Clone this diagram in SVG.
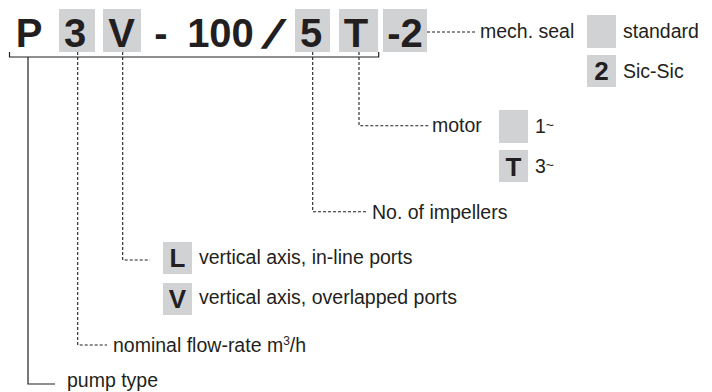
<svg xmlns="http://www.w3.org/2000/svg" width="712" height="392" viewBox="0 0 712 392">
<style>
.box{fill:#d1d2d4}
.big{font-family:"Liberation Sans",Arial,sans-serif;font-weight:bold;font-size:40px;fill:#231f20;text-anchor:middle}
.code{font-family:"Liberation Sans",Arial,sans-serif;font-weight:bold;font-size:26px;fill:#231f20;text-anchor:middle}
.lbl{font-family:"Liberation Sans",Arial,sans-serif;font-size:19.5px;fill:#231f20}
.dash{fill:none;stroke:#231f20;stroke-width:1.1;stroke-dasharray:3 2}
.solid{fill:none;stroke:#231f20;stroke-width:1.2}
</style>
<rect width="712" height="392" fill="#ffffff"/>
<g id="code">
<rect class="box" x="59" y="9" width="36" height="43"/>
<rect class="box" x="103" y="9" width="38" height="43"/>
<rect class="box" x="295" y="9" width="35" height="43"/>
<rect class="box" x="339" y="9" width="39" height="43"/>
<rect class="box" x="383" y="9" width="44" height="43"/>
<text class="big" x="29" y="47">P</text>
<text class="big" x="75" y="47">3</text>
<text class="big" x="121.5" y="47">V</text>
<text class="big" x="161" y="47">-</text>
<text class="big" x="220.5" y="47">100</text>
<text class="big" transform="translate(267.5 48) skewX(-24) scale(1.25 1)" x="0" y="0">/</text>
<text class="big" x="311" y="47">5</text>
<text class="big" x="356" y="47">T</text>
<text class="big" x="405" y="47">-2</text>
</g>
<g id="connectors">
<path class="solid" d="M9.5 52V57H378.7V52"/>
<path class="solid" d="M28 57V384H55"/>
<path class="dash" d="M77.7 52V345H107"/>
<path class="dash" d="M122.7 52V260H150"/>
<path class="dash" d="M312.7 52V211.7H368"/>
<path class="dash" d="M359 52V125.7H430"/>
<path class="dash" d="M427 32H477"/>
</g>
<g id="pump-type">
<text class="lbl" x="67" y="387">pump type</text>
</g>
<g id="flow-rate">
<text class="lbl" x="113" y="352">nominal flow-rate m<tspan font-size="12" dy="-7">3</tspan><tspan dy="7">/h</tspan></text>
</g>
<g id="axis-L">
<rect class="box" x="163" y="242" width="29" height="32"/>
<text class="code" x="177.5" y="267">L</text>
<text class="lbl" x="199" y="264">vertical axis, in-line ports</text>
</g>
<g id="axis-V">
<rect class="box" x="163" y="283" width="29" height="32"/>
<text class="code" x="177.5" y="308">V</text>
<text class="lbl" x="199" y="304">vertical axis, overlapped ports</text>
</g>
<g id="impellers">
<text class="lbl" x="372" y="219">No. of impellers</text>
</g>
<g id="motor">
<text class="lbl" x="432" y="132">motor</text>
</g>
<g id="motor-1">
<rect class="box" x="499" y="110" width="29" height="33"/>
<text class="lbl" x="535" y="133">1<tspan font-size="14" dy="-3">~</tspan></text>
</g>
<g id="motor-3">
<rect class="box" x="499" y="150" width="29" height="32"/>
<text class="code" x="513.5" y="176">T</text>
<text class="lbl" x="535" y="173">3<tspan font-size="14" dy="-3">~</tspan></text>
</g>
<g id="mech-seal">
<text class="lbl" x="480" y="38">mech. seal</text>
</g>
<g id="seal-standard">
<rect class="box" x="587" y="15" width="29" height="33"/>
<text class="lbl" x="623" y="38">standard</text>
</g>
<g id="seal-sic">
<rect class="box" x="587" y="55" width="29" height="32"/>
<text class="code" x="601.5" y="80">2</text>
<text class="lbl" x="623" y="78">Sic-Sic</text>
</g>
</svg>
